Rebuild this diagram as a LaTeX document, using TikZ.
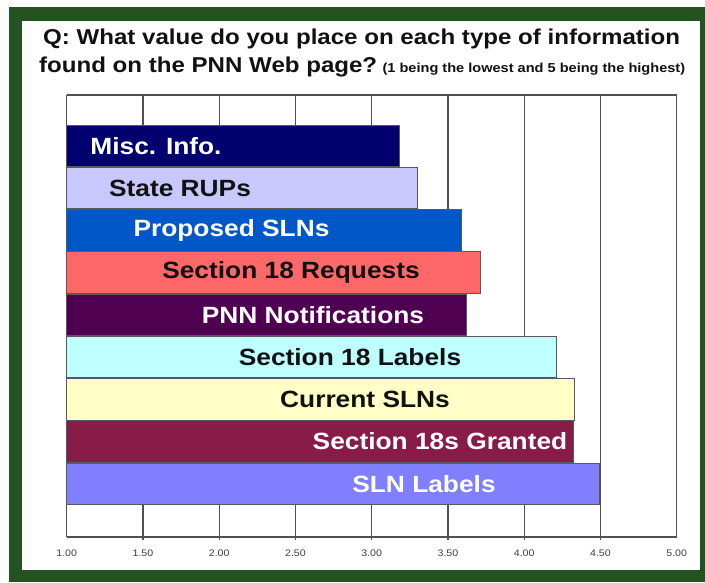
\documentclass[tikz,border=0pt]{standalone}
\usepackage{fontspec}
\newfontfamily\chartfont[FakeStretch=1.12]{Liberation Sans}

\definecolor{frameGreen}{RGB}{36,82,33}
\definecolor{gridGray}{RGB}{80,80,80}
\definecolor{inkBlack}{RGB}{17,17,17}
\definecolor{miscBlue}{RGB}{0,0,110}
\definecolor{rupLilac}{RGB}{200,200,255}
\definecolor{propBlue}{RGB}{0,88,200}
\definecolor{reqRed}{RGB}{255,104,104}
\definecolor{pnnPurple}{RGB}{80,0,80}
\definecolor{labCyan}{RGB}{192,255,255}
\definecolor{curYellow}{RGB}{255,255,200}
\definecolor{grantMaroon}{RGB}{136,28,72}
\definecolor{slnPeri}{RGB}{128,128,255}

\tikzset{
  titletext/.style={font=\chartfont\bfseries\fontsize{21.5}{24}\selectfont,
    text=inkBlack, inner sep=0pt, anchor=base west},
  notetext/.style={font=\chartfont\bfseries\fontsize{13}{15}\selectfont,
    text=inkBlack, inner sep=0pt, anchor=base west},
  barlabel/.style={font=\chartfont\bfseries\fontsize{23.5}{26}\selectfont,
    inner sep=0pt},
  ticklabel/.style={font=\chartfont\fontsize{9.5}{11}\selectfont,
    text=black!75, inner sep=0pt},
  gridline/.style={gridGray, line width=1.2pt},
  bar/.style={draw=black!65, line width=0.8pt}
}

\begin{document}
\begin{tikzpicture}[x=1pt,y=-1pt]

  \useasboundingbox (0,0) rectangle (705,582);
  \fill[frameGreen] (9,7) rectangle (705,582);
  \fill[white] (22,21) rectangle (700,570);

  % question
  \node[titletext] (qline) at (43,44)
    {Q: What value do you place on each type of information};
  \node[titletext] (fline) at (39,72) {found on the PNN Web page?};
  \node[notetext] (note) at ([xshift=5pt]fline.base east)
    {(1 being the lowest and 5 being the highest)};

  % grid and axis
  \foreach \k in {0,...,8}{
    \draw[gridline] (66.7+76.25*\k,95) -- (66.7+76.25*\k,537);
  }
  \foreach \k in {1,...,7}
    \draw[gridline] (66.7+76.25*\k,537) -- (66.7+76.25*\k,540);
  \draw[gridline] (66.7,95) -- (676.7,95);
  \draw[gridline] (66.7,537) -- (676.7,537);

  \foreach \t [count=\k from 0] in {1.00,1.50,2.00,2.50,3.00,3.50,4.00,4.50,5.00}
    \node[ticklabel] (tick\k) at (66.7+76.25*\k,553) {\t};

  % bars
  \foreach \val/\fc/\tc/\lx/\txt [count=\i from 0] in {
      3.18/miscBlue/white/156/{Misc. Info.},
      3.30/rupLilac/inkBlack/180/{State RUPs},
      3.59/propBlue/white/231.5/{Proposed SLNs},
      3.71/reqRed/inkBlack/291/{Section 18 Requests},
      3.62/pnnPurple/white/313/{PNN Notifications},
      4.21/labCyan/inkBlack/350/{Section 18 Labels},
      4.33/curYellow/inkBlack/365/{Current SLNs},
      4.32/grantMaroon/white/440/{Section 18s Granted},
      4.49/slnPeri/white/424/{SLN Labels}}{
    \pgfmathsetmacro\top{125+42.25*\i}
    \pgfmathsetmacro\bot{\top+41.5}
    \pgfmathsetmacro\rx{66.7+(\val-1)*152.5}
    \draw[bar, fill=\fc] (66.7,\top) rectangle (\rx,\bot);
    \node[barlabel, text=\tc] (bar\i) at (\lx,\top+20.75) {\txt};
  }

\end{tikzpicture}
\end{document}
